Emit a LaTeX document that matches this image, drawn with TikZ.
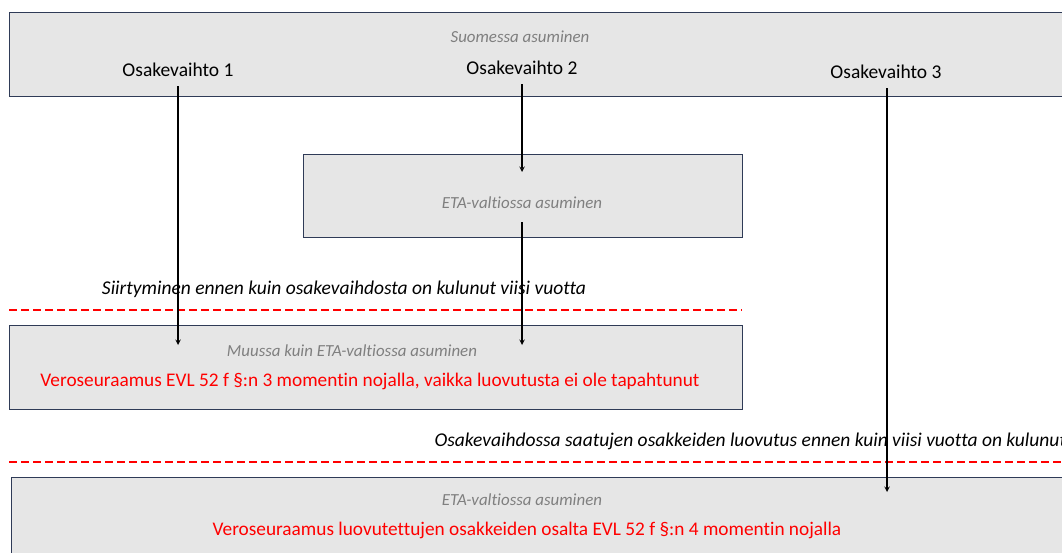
\documentclass[tikz,border=0pt]{standalone}
\usepackage{fontspec}
\setmainfont[Ligatures={NoCommon}]{Carlito}
\usepackage{tikz}
\usetikzlibrary{arrows}
\definecolor{boxfill}{HTML}{E6E6E6}
\definecolor{boxline}{HTML}{2F3B57}
\definecolor{notegray}{HTML}{7F7F7F}
\tikzstyle{areabox} = [rectangle, draw=boxline, fill=boxfill, line width=1pt, inner sep=0pt]
\tikzstyle{swapname} = [font=\fontsize{19.5}{23}\selectfont, text=black]
\tikzstyle{placetext} = [font=\fontsize{16.9}{20}\selectfont\itshape, text=notegray]
\tikzstyle{ruletext} = [font=\fontsize{19.5}{23}\selectfont\itshape, text=black]
\tikzstyle{resulttext} = [font=\fontsize{19.3}{23}\selectfont, text=red]
\tikzstyle{arrow} = [line width=1.4pt,->,>=stealth]
\tikzstyle{limitline} = [red, line width=2.5pt, dash pattern=on 8pt off 4pt]

\begin{document}
\begin{tikzpicture}[x=1pt, y=-1pt]
\useasboundingbox (0,0) rectangle (1062,553);
\clip (0,0) rectangle (1062,553);

% Residence areas
\node (finland) [areabox, minimum width=1066pt, minimum height=84pt] at (542,55) {};
\node (eea) [areabox, minimum width=439pt, minimum height=83pt] at (522.5,196.5) {};
\node (other) [areabox, minimum width=733pt, minimum height=84pt] at (375.5,367) {};
\node (eeasale) [areabox, minimum width=1064pt, minimum height=93pt] at (543,523.5) {};

% Area labels
\node (finlandlabel) [placetext] at (520,37) {Suomessa asuminen};
\node (eealabel) [placetext] at (522,203) {ETA-valtiossa asuminen};
\node (otherlabel) [placetext] at (352,351) {Muussa kuin ETA-valtiossa asuminen};
\node (eeasalelabel) [placetext] at (522,500) {ETA-valtiossa asuminen};

% Share exchanges
\node (swap1) [swapname] at (178,70) {Osakevaihto 1};
\node (swap2) [swapname] at (522,68) {Osakevaihto 2};
\node (swap3) [swapname] at (886,72) {Osakevaihto 3};

% Consequences
\node (result1) [resulttext] at (370,381) {Veroseuraamus EVL 52 f §:n 3 momentin nojalla, vaikka luovutusta ei ole tapahtunut};
\node (result2) [resulttext] at (527,530) {Veroseuraamus luovutettujen osakkeiden osalta EVL 52 f §:n 4 momentin nojalla};

% Five-year limits
\node (rule1) [ruletext] at (344,289) {Siirtyminen ennen kuin osakevaihdosta on kulunut viisi vuotta};
\node (rule2) [ruletext, anchor=west] at (431,441) {Osakevaihdossa saatujen osakkeiden luovutus ennen kuin viisi vuotta on kulunut};
\coordinate (limit1a) at (9,310);
\coordinate (limit1b) at (742,310);
\coordinate (limit2a) at (9,462);
\coordinate (limit2b) at (1062,462);
\draw [limitline] (limit1a) -- (limit1b);
\draw [limitline] (limit2a) -- (limit2b);

% Arrow ends
\coordinate (tip1) at (178,345);
\coordinate (tip2) at (522,172);
\coordinate (tip3) at (522,345);
\coordinate (tip4) at (887,492);

% Arrows
\draw [arrow, shorten <=6pt] (swap1.south) -- (tip1);
\draw [arrow, shorten <=6pt] (swap2.south) -- (tip2);
\draw [arrow, shorten <=10pt] (eealabel.south) -- (tip3);
\draw [arrow, shorten <=6pt] (swap3.south -| tip4) -- (tip4);

\end{tikzpicture}
\end{document}
